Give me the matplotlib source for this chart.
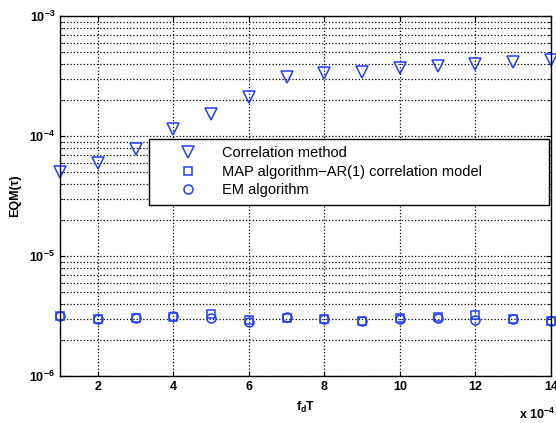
import numpy as np
import matplotlib.pyplot as plt

plt.rcParams['font.family'] = ['Liberation Sans', 'DejaVu Sans']

fdT = [1, 2, 3, 4, 5, 6, 7, 8, 9, 10, 11, 12, 13, 14]  # x 10^-4
corr = [5.0e-5, 5.96e-5, 7.8e-5, 1.14e-4, 1.53e-4, 2.11e-4, 3.1e-4,
        3.35e-4, 3.41e-4, 3.69e-4, 3.83e-4, 3.98e-4, 4.14e-4, 4.3e-4]
map_ar1 = [3.15e-6, 3.0e-6, 3.05e-6, 3.1e-6, 3.3e-6, 2.95e-6, 3.05e-6,
           3.0e-6, 2.9e-6, 3.05e-6, 3.1e-6, 3.2e-6, 3.0e-6, 2.85e-6]
em = [3.15e-6, 3.0e-6, 3.05e-6, 3.15e-6, 3.05e-6, 2.8e-6, 3.1e-6,
      3.0e-6, 2.85e-6, 3.0e-6, 3.05e-6, 2.95e-6, 3.0e-6, 2.85e-6]

fig = plt.figure(figsize=(5.56, 4.23), dpi=100)
ax = fig.add_axes([0.108, 0.111, 0.883, 0.851])

blue = '#1f3fff'
ax.semilogy(fdT, corr, 'v', mfc='none', mec=blue, ms=8, mew=1.1, label='Correlation method', clip_on=False)
ax.semilogy(fdT, map_ar1, 's', mfc='none', mec=blue, ms=6, mew=1.1, label='MAP algorithm\u2212AR(1) correlation model', clip_on=False)
ax.semilogy(fdT, em, 'o', mfc='none', mec=blue, ms=6.5, mew=1.1, label='EM algorithm', clip_on=False)

ax.set_xlim(1, 14)
ax.set_ylim(1e-6, 1e-3)
ax.set_xticks([2, 4, 6, 8, 10, 12, 14])
ax.grid(True, which='major', linestyle=':', color='black', linewidth=0.9)
ax.grid(True, which='minor', axis='y', linestyle=':', color='black', linewidth=0.9)
ax.tick_params(which='both', direction='in', labelsize=9, top=True, right=True)
ax.tick_params(which='minor', length=2)
for s in ax.spines.values():
    s.set_linewidth(1.0)

ax.set_xlabel('f$_\\mathregular{d}$T', fontsize=9, fontweight='bold', labelpad=5)
ax.set_ylabel('EQM(\u03c4)', fontsize=9, fontweight='bold', labelpad=6)
for lab in ax.get_xticklabels() + ax.get_yticklabels():
    lab.set_fontweight('bold')
ax.text(1.008, -0.085, 'x 10$^{\\mathregular{-4}}$', transform=ax.transAxes, ha='right', va='top',
        fontsize=9, fontweight='bold')

leg = ax.legend(loc='upper left', bbox_to_anchor=(0.181, 0.0, 0.815, 0.658), mode='expand',
                fontsize=10.5, frameon=True, fancybox=False, edgecolor='black', framealpha=1,
                borderaxespad=0, handletextpad=0.2, borderpad=0.5, labelspacing=0.3,
                handlelength=4.3)
leg.get_frame().set_linewidth(1.0)

fig.savefig('out.png', dpi=100)
